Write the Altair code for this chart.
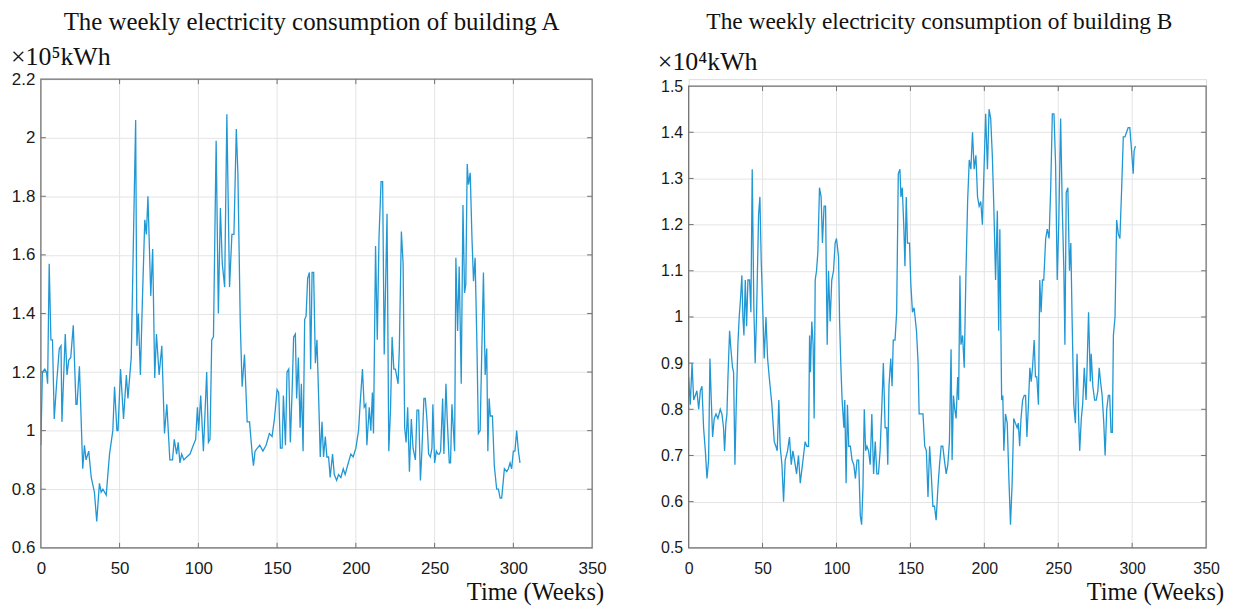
import altair as alt
import pandas as pd

# ---------------- data ----------------
weeks_a = [0, 1, 2.5, 3.6, 4.3, 5.3, 6.4, 7.4, 8.5, 10, 11.7, 12.8, 13.4, 15.5, 16.6, 17.7, 19, 20.6, 22.3, 23,
           24.5, 26.6, 27.7, 28.7, 30.4, 32, 34, 35.5, 37.2, 38.3, 39.4, 41.5, 43.6, 45.7, 46.8, 48.3, 49, 50.6, 52.5, 54.3,
           55.3, 57.4, 58.5, 60.2, 61, 61.9, 63.2, 64.5, 66, 67, 68, 69.8, 71, 72.3, 73.4, 75.1, 76.8, 78.5, 80, 81.9,
           83.6, 84.7, 86.2, 87.2, 88.3, 89.4, 90.8, 92.6, 94.7, 96.8, 98.3, 99.4, 100.2, 101.5, 103.2, 104.3, 105.3, 106.4, 107.4, 108.5,
           109.6, 111.3, 112.7, 114, 115.2, 116.7, 118.1, 119.8, 121.3, 122.6, 124.1, 125.1, 126.6, 127.8, 129.3, 131, 132.5, 134.2, 135, 136,
           137.5, 139, 141, 143, 145.1, 146.8, 148.3, 150, 151, 152.1, 153.2, 154, 155.3, 156.3, 157.4, 158.4, 159.5, 160.5, 161.6, 162.4,
           163.5, 164.6, 165.4, 166.5, 167.5, 168.4, 169.4, 170.5, 171.3, 172.2, 173.2, 174.3, 175.3, 176.4, 177.4, 178.5, 179.5, 180.6, 181.6, 182.7,
           183.7, 185.2, 186.3, 187.8, 189, 190.5, 192, 193.2, 194.7, 196.8, 198.3, 200, 201.7, 202.7, 204.2, 205.3, 206.3, 207, 208.5, 209.5,
           210.5, 211.2, 212.5, 213.6, 214.7, 216, 217, 218, 219.8, 220.9, 222, 223, 224.1, 225.1, 226.8, 227.6, 228.9, 230, 231, 231.9,
           232.9, 234, 235.2, 236.3, 237.8, 238.8, 239.9, 241, 242, 243.2, 244.1, 245.1, 246.2, 247.3, 248.3, 248.9, 250, 251.1, 252.1, 253,
           253.8, 255.1, 255.9, 257.2, 258, 259.3, 260.1, 261, 262.7, 263.5, 264.6, 265.6, 266.9, 268, 269, 269.8, 270.7, 271.5, 272.6, 273.7,
           274.7, 275.7, 276.8, 277.8, 278.9, 281, 282.1, 283.1, 283.8, 284.6, 285.4, 286.7, 287.9, 289.4, 290.5, 291.6, 292.6, 294.3, 295.8, 296.8,
           297.9, 298.9, 300, 301, 302.1, 303.2, 304.2]
values_a = [0.95, 1.20, 1.21, 1.20, 1.16, 1.57, 1.31, 1.31, 1.04, 1.16, 1.28, 1.29, 1.03, 1.33, 1.19, 1.24, 1.25, 1.36, 1.09, 1.09,
            1.22, 0.87, 0.95, 0.90, 0.93, 0.84, 0.79, 0.69, 0.82, 0.79, 0.80, 0.78, 0.92, 1.00, 1.15, 1.00, 1.00, 1.21, 1.04, 1.19,
            1.11, 1.25, 1.57, 2.06, 1.29, 1.40, 1.19, 1.45, 1.72, 1.67, 1.80, 1.46, 1.62, 1.18, 1.33, 1.19, 1.29, 0.99, 1.09, 0.90,
            0.90, 0.97, 0.92, 0.96, 0.89, 0.92, 0.90, 0.91, 0.92, 0.95, 0.97, 1.08, 1.00, 1.12, 0.93, 1.07, 1.20, 0.96, 0.97, 1.31,
            1.32, 1.99, 1.40, 1.76, 1.57, 1.49, 2.08, 1.49, 1.67, 1.67, 2.03, 1.88, 1.37, 1.15, 1.26, 1.03, 1.03, 0.92, 0.88, 0.93,
            0.94, 0.95, 0.93, 0.95, 0.99, 0.98, 1.04, 1.14, 1.13, 0.94, 0.94, 1.12, 0.95, 1.20, 1.21, 0.96, 1.13, 1.32, 1.33, 1.11,
            1.25, 1.01, 1.16, 0.93, 1.38, 1.39, 1.52, 1.54, 1.21, 1.54, 1.54, 1.23, 1.31, 1.11, 0.91, 1.03, 0.91, 0.98, 0.91, 0.91,
            0.84, 0.92, 0.85, 0.83, 0.85, 0.84, 0.87, 0.85, 0.88, 0.92, 0.91, 0.94, 1.00, 1.09, 1.21, 1.08, 1.09, 0.95, 1.08, 1.00,
            1.13, 0.99, 1.63, 1.31, 1.66, 1.85, 1.85, 1.26, 1.74, 0.93, 1.07, 1.32, 1.21, 1.21, 1.16, 1.28, 1.68, 1.57, 1.01, 0.96,
            1.08, 0.86, 1.04, 0.94, 0.90, 1.07, 1.07, 0.83, 0.94, 1.11, 1.11, 1.04, 0.92, 0.91, 0.94, 1.09, 0.89, 0.93, 0.92, 0.92,
            0.93, 1.11, 0.92, 1.16, 1.04, 0.89, 0.89, 1.09, 0.93, 1.59, 1.34, 1.56, 1.16, 1.77, 1.47, 1.50, 1.91, 1.84, 1.88, 1.66,
            1.51, 1.59, 1.31, 0.99, 1.00, 1.54, 1.19, 1.28, 0.93, 1.11, 1.05, 1.05, 0.88, 0.80, 0.80, 0.77, 0.77, 0.87, 0.86, 0.87,
            0.89, 0.87, 0.93, 0.93, 1.00, 0.93, 0.89]

weeks_b = [0, 1.1, 2.3, 3.4, 4.5, 5.6, 6.8, 7.9, 9, 10.1, 11.3, 12.4, 13.5, 14.4, 15.3, 16.2, 17.3, 18.5, 19.8, 21.4,
           22.5, 23.6, 24.3, 25.2, 25.9, 26.6, 27.7, 28.6, 29.7, 30.4, 31.3, 32.2, 33.3, 34.2, 35.1, 36, 36.7, 37.4, 38.3, 39.2,
           40.1, 41.2, 42.1, 43, 44.1, 45, 45.9, 47.3, 48.2, 49.1, 50.2, 51.1, 52.3, 53.4, 54.5, 56.3, 57.9, 59, 59.9, 61,
           61.9, 63.1, 64.2, 65.3, 66.9, 68.2, 69.4, 70.5, 71.6, 73, 74.3, 75.5, 76.6, 77.7, 78.8, 79.9, 81.1, 81.8, 82.4, 83.3,
           84.2, 84.9, 85.6, 86.5, 87.4, 88.5, 89.6, 90.5, 91.6, 92.6, 93.7, 94.6, 95.7, 96.8, 98, 99.1, 100, 101.4, 102.1, 103,
           103.8, 105, 105.6, 106.5, 107.4, 108.3, 109.4, 110.5, 111.7, 112.8, 113.9, 115, 116.1, 117, 117.9, 118.8, 119.7, 120.6, 121.7, 122.8,
           123.9, 125.1, 126.2, 127.3, 128.4, 129.5, 130.6, 131.7, 132.9, 134, 134.7, 135.5, 136.7, 137.6, 138.4, 139.6, 140.7, 141.8, 142.9, 143.6,
           144.5, 145.6, 146.3, 147.2, 148, 149.4, 150.3, 151.4, 152.5, 154.1, 155.2, 155.9, 157.4, 158.5, 159.7, 160.8, 161.9, 163, 164.1, 165.2,
           166.3, 167.4, 168.6, 169.7, 170.8, 171.9, 173, 174.2, 175.3, 176.4, 177.5, 178.2, 179.1, 180, 180.9, 182, 182.6, 183.5, 184.2, 185.3,
           186.4, 187.6, 188.7, 189.8, 190.9, 192, 193.1, 194.3, 195.4, 196.5, 197.6, 198.7, 199.8, 200.9, 202.1, 203.2, 204.3, 205.4, 206.5, 207.6,
           208.8, 209.7, 210.5, 211.7, 212.5, 213.2, 214.3, 215.5, 216.6, 217.7, 218.8, 219.9, 221, 222.2, 223, 223.9, 224.8, 225.9, 227, 227.9,
           228.8, 229.7, 230.8, 231.7, 232.6, 233.7, 234.6, 235.5, 236.6, 237.5, 238.4, 239.3, 240.2, 241.5, 242.6, 243.8, 244.9, 246, 247.1, 248.2,
           249.3, 250.4, 251.6, 252.7, 253.8, 254.5, 255.4, 256.5, 257.6, 258.5, 259.4, 260.5, 261.6, 262.7, 263.8, 264.5, 265.6, 266.5, 267.6, 268.8,
           269.4, 270.5, 271.7, 272.3, 273.4, 274.6, 275.7, 276.8, 277.7, 278.6, 279.7, 280.8, 281.7, 282.8, 283.9, 284.8, 285.7, 286.6, 287.3, 288.4,
           289.5, 290.6, 291.7, 292.9, 294, 295.1, 296.2, 297.3, 298.4, 299.6, 300.7, 301.3, 302.2]
values_b = [0.87, 0.81, 0.90, 0.82, 0.83, 0.84, 0.80, 0.84, 0.85, 0.76, 0.71, 0.65, 0.69, 0.91, 0.82, 0.74, 0.78, 0.79, 0.78, 0.80,
            0.79, 0.76, 0.71, 0.77, 0.79, 0.87, 0.97, 0.93, 0.89, 0.88, 0.68, 0.81, 0.94, 1.00, 1.04, 1.09, 1.00, 0.96, 1.08, 0.98,
            1.08, 1.08, 1.01, 1.32, 1.02, 0.90, 1.00, 1.22, 1.26, 1.12, 1.01, 0.91, 1.00, 0.91, 0.87, 0.81, 0.73, 0.72, 0.71, 0.82,
            0.72, 0.68, 0.60, 0.69, 0.71, 0.74, 0.68, 0.71, 0.69, 0.66, 0.70, 0.64, 0.67, 0.70, 0.73, 0.72, 0.72, 0.96, 0.88, 0.99,
            0.94, 0.78, 1.08, 1.10, 1.14, 1.28, 1.26, 1.16, 1.24, 1.24, 0.94, 1.10, 0.99, 1.08, 1.10, 1.16, 1.17, 1.13, 0.99, 0.89,
            0.82, 0.76, 0.82, 0.64, 0.81, 0.72, 0.72, 0.69, 0.68, 0.65, 0.69, 0.69, 0.57, 0.55, 0.63, 0.80, 0.71, 0.72, 0.71, 0.68,
            0.79, 0.66, 0.73, 0.66, 0.66, 0.71, 0.80, 0.90, 0.76, 0.76, 0.68, 0.85, 0.91, 0.85, 0.95, 0.95, 1.01, 1.31, 1.32, 1.26,
            1.28, 1.19, 1.11, 1.26, 1.16, 1.16, 1.07, 1.01, 1.02, 0.97, 0.90, 0.79, 0.79, 0.79, 0.72, 0.71, 0.61, 0.72, 0.66, 0.59,
            0.59, 0.56, 0.63, 0.68, 0.72, 0.72, 0.69, 0.66, 0.68, 0.73, 0.93, 0.69, 0.83, 0.80, 0.78, 0.87, 0.82, 1.09, 0.94, 0.96,
            0.89, 1.10, 1.25, 1.34, 1.32, 1.40, 1.32, 1.35, 1.26, 1.24, 1.25, 1.20, 1.32, 1.44, 1.32, 1.45, 1.43, 1.35, 1.23, 1.08,
            1.23, 0.97, 1.19, 0.82, 0.83, 0.71, 0.79, 0.77, 0.65, 0.55, 0.64, 0.78, 0.77, 0.76, 0.77, 0.72, 0.78, 0.82, 0.83, 0.83,
            0.74, 0.80, 0.89, 0.86, 0.89, 0.95, 0.87, 0.87, 0.81, 1.08, 1.01, 1.08, 1.08, 1.17, 1.19, 1.17, 1.28, 1.44, 1.44, 1.33,
            1.08, 1.21, 1.43, 1.24, 1.10, 0.94, 1.27, 1.28, 1.10, 1.16, 0.99, 0.81, 0.77, 0.92, 0.78, 0.71, 0.78, 0.81, 0.89, 0.82,
            0.88, 1.01, 0.86, 0.92, 0.85, 0.82, 0.82, 0.84, 0.89, 0.86, 0.83, 0.77, 0.70, 0.80, 0.83, 0.83, 0.75, 0.75, 0.96, 1.00,
            1.21, 1.18, 1.17, 1.28, 1.39, 1.39, 1.40, 1.41, 1.41, 1.36, 1.31, 1.36, 1.37]

x_ticks = [0, 50, 100, 150, 200, 250, 300, 350]
y_ticks_a = [0.6, 0.8, 1.0, 1.2, 1.4, 1.6, 1.8, 2.0, 2.2]
y_ticks_b = [0.5, 0.6, 0.7, 0.8, 0.9, 1.0, 1.1, 1.2, 1.3, 1.4, 1.5]

title_a = "The weekly electricity consumption of building A"
title_b = "The weekly electricity consumption of building B"
unit_a = "×10⁵kWh"
unit_b = "×10⁴kWh"
x_label = "Time (Weeks)"

LINE = "#2197d4"
FRAME = "#707070"
GRID = "#e4e4e4"
SERIF = "Liberation Serif"
SANS = "Liberation Sans"


def panel(weeks, values, yticks, w, h, top, title, unit, title_x, title_y, unit_x, unit_y,
          xl_x, xl_y, tfs, lfs):
    """top: pixel offset of the plot frame below the view origin."""
    ymin, ymax = yticks[0], yticks[-1]
    xmin, xmax = x_ticks[0], x_ticks[-1]
    df = pd.DataFrame({"week": weeks, "value": values})
    xs = alt.Scale(domain=[xmin, xmax], nice=False, zero=False)
    ys = alt.Scale(domain=[ymin, ymax], nice=False, zero=False, range=[h, top])
    x_axis = alt.Axis(values=x_ticks, title=None, grid=False, ticks=False, domain=False,
                      labelFont=SANS, labelFontSize=lfs, labelColor="#1a1a1a",
                      labelPadding=13, labelFlush=False, format="d")
    y_axis = alt.Axis(values=yticks, title=None, grid=True, gridColor=GRID, gridWidth=1,
                      ticks=False, domain=False, labelFont=SANS, labelFontSize=lfs,
                      labelColor="#1a1a1a", labelPadding=6, labelFlush=False, format="~g")
    X = alt.X("week:Q", scale=xs, axis=x_axis)
    Y = alt.Y("value:Q", scale=ys, axis=y_axis)

    # vertical grid lines (within the frame)
    xg = pd.DataFrame({"week": x_ticks[1:-1], "value": [ymin] * (len(x_ticks) - 2),
                       "value_end": [ymax] * (len(x_ticks) - 2)})
    vgrid = alt.Chart(xg).mark_rule(color=GRID, strokeWidth=1).encode(x=X, y=Y, y2="value_end:Q")

    line = alt.Chart(df).mark_line(color=LINE, strokeWidth=1.3, clip=True).encode(x=X, y=Y)

    # inward tick marks on all four sides
    xt = pd.DataFrame({"week": x_ticks[1:-1]})
    yt = pd.DataFrame({"value": yticks[1:-1]})
    tick_b = alt.Chart(xt).mark_rule(color=FRAME, strokeWidth=1).encode(
        x=X, y=alt.value(h), y2=alt.value(h - 5))
    tick_t = alt.Chart(xt).mark_rule(color=FRAME, strokeWidth=1).encode(
        x=X, y=alt.value(top), y2=alt.value(top + 5))
    tick_l = alt.Chart(yt).mark_rule(color=FRAME, strokeWidth=1).encode(
        y=Y, x=alt.value(0), x2=alt.value(5))
    tick_r = alt.Chart(yt).mark_rule(color=FRAME, strokeWidth=1).encode(
        y=Y, x=alt.value(w), x2=alt.value(w - 5))

    # frame (box) through the scales
    fr = pd.DataFrame({"week": [xmin], "week_end": [xmax], "value": [ymin], "value_end": [ymax]})
    frame = alt.Chart(fr).mark_rect(filled=False, stroke=FRAME, strokeWidth=1.2).encode(
        x=X, x2="week_end:Q", y=Y, y2="value_end:Q")

    t_title = alt.Chart(pd.DataFrame({"s": [title]})).mark_text(
        font=SERIF, fontSize=tfs, color="#111111", align="center", baseline="middle").encode(
        text="s:N", x=alt.value(title_x), y=alt.value(title_y))
    t_unit = alt.Chart(pd.DataFrame({"s": [unit]})).mark_text(
        font=SERIF, fontSize=26, color="#111111", align="left", baseline="middle").encode(
        text="s:N", x=alt.value(unit_x), y=alt.value(unit_y))
    t_xl = alt.Chart(pd.DataFrame({"s": [x_label]})).mark_text(
        font=SERIF, fontSize=24.5, color="#111111", align="right", baseline="middle").encode(
        text="s:N", x=alt.value(xl_x), y=alt.value(xl_y))
    return alt.layer(vgrid, line, tick_b, tick_t, tick_l, tick_r, frame,
                     t_title, t_unit, t_xl).properties(width=w, height=h)


# both views share the same origin row; building B's frame starts 7 px lower
left = panel(weeks_a, values_a, y_ticks_a, 554, 471, 0, title_a, unit_a,
             272, -57, -30, -22, 566, 516, 25, 17)
right = panel(weeks_b, values_b, y_ticks_b, 520, 471, 7, title_b, unit_b,
              252, -57, -31, -17, 538, 516, 23.5, 16)

chart = alt.hconcat(left, right, spacing=50).properties(
    padding={"left": 2, "top": 0, "right": 0, "bottom": 0}
).configure_view(strokeWidth=0).configure(background="white")

chart.save("out.html", embed_options={"renderer": "svg", "actions": False})
